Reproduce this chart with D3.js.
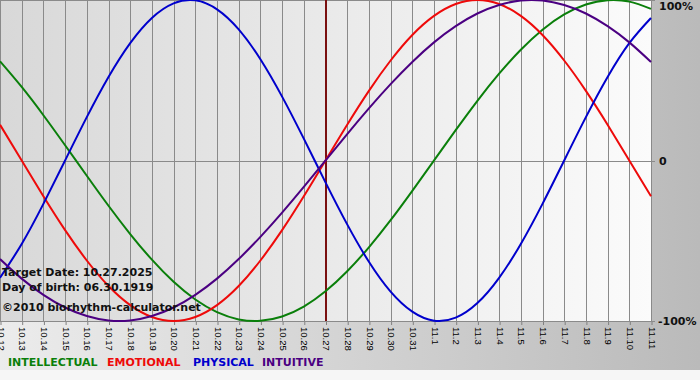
<!DOCTYPE html>
<html>
<head>
<meta charset="utf-8">
<script src="https://cdn.jsdelivr.net/npm/d3@7"></script>
<style>
  body { margin: 0; background: #f6f6f6; }
  svg { display: block; }
</style>
</head>
<body>
<div id="chart"></div>
<script>
// Biorhythm chart, 10.12 - 11.11

const dates = ['10.12', '10.13', '10.14', '10.15', '10.16', '10.17', '10.18', '10.19', '10.20', '10.21',
    '10.22', '10.23', '10.24', '10.25', '10.26', '10.27', '10.28', '10.29', '10.30', '10.31',
    '11.1', '11.2', '11.3', '11.4', '11.5', '11.6', '11.7', '11.8', '11.9', '11.10', '11.11'];

const intellectual = [0.618, 0.458, 0.282, 0.095, -0.095, -0.282, -0.458, -0.618, -0.756, -0.866,
    -0.945, -0.990, -0.999, -0.972, -0.910, -0.815, -0.690, -0.541, -0.372, -0.189,
    0.000, 0.189, 0.372, 0.541, 0.690, 0.815, 0.910, 0.972, 0.999, 0.990, 0.945];

const emotional = [0.223, 0.000, -0.223, -0.434, -0.623, -0.782, -0.901, -0.975, -1.000, -0.975,
    -0.901, -0.782, -0.623, -0.434, -0.223, 0.000, 0.223, 0.434, 0.623, 0.782,
    0.901, 0.975, 1.000, 0.975, 0.901, 0.782, 0.623, 0.434, 0.223, 0.000, -0.223];

const physical = [-0.731, -0.520, -0.270, 0.000, 0.270, 0.520, 0.731, 0.888, 0.979, 0.998,
    0.942, 0.817, 0.631, 0.398, 0.136, -0.136, -0.398, -0.631, -0.817, -0.942,
    -0.998, -0.979, -0.888, -0.731, -0.520, -0.270, 0.000, 0.270, 0.520, 0.731, 0.888];

const intuitive = [-0.614, -0.736, -0.837, -0.916, -0.969, -0.997, -0.997, -0.969, -0.916, -0.837,
    -0.736, -0.614, -0.476, -0.325, -0.165, 0.000, 0.165, 0.325, 0.476, 0.614,
    0.736, 0.837, 0.916, 0.969, 0.997, 0.997, 0.969, 0.916, 0.837, 0.736, 0.614];

const seriesNames = ['INTELLECTUAL', 'EMOTIONAL', 'PHYSICAL', 'INTUITIVE'];
const yTickValues = [1, 0, -1];
const yTickLabels = ['100%', '0', '-100%'];
const targetDate = '10.27';
const infoLines = ['Target Date: 10.27.2025', 'Day of birth: 06.30.1919', '\u00A92010 biorhythm-calculator.net'];

function drawChart() {
    const W = 700, H = 380;
    const plot = { left: 0, right: 651, top: 0, bottom: 321 };
    const colors = ['#0a7f0a', '#ee0a0a', '#0000cc', '#4b0082'];
    const series = [intellectual, emotional, physical, intuitive];

    const svg = d3.select('#chart')
        .append('svg')
        .attr('width', W)
        .attr('height', H);

    const defs = svg.append('defs');

    // outer background gradient (light left, darker right)
    const outerGrad = defs.append('linearGradient')
        .attr('id', 'outerGrad')
        .attr('x1', '0%').attr('x2', '100%').attr('y1', '0%').attr('y2', '0%');
    outerGrad.append('stop').attr('offset', '0%').attr('stop-color', '#ececec');
    outerGrad.append('stop').attr('offset', '100%').attr('stop-color', '#bababa');

    // plot background gradient (grey left, white right)
    const plotGrad = defs.append('linearGradient')
        .attr('id', 'plotGrad')
        .attr('x1', '0%').attr('x2', '100%').attr('y1', '0%').attr('y2', '0%');
    plotGrad.append('stop').attr('offset', '0%').attr('stop-color', '#d8d8d8');
    plotGrad.append('stop').attr('offset', '100%').attr('stop-color', '#fbfbfb');

    svg.append('rect')
        .attr('width', W).attr('height', H)
        .attr('fill', '#f6f6f6');

    svg.append('rect')
        .attr('width', W).attr('height', 370)
        .attr('fill', 'url(#outerGrad)');

    svg.append('rect')
        .attr('x', plot.left).attr('y', plot.top)
        .attr('width', plot.right - plot.left)
        .attr('height', plot.bottom - plot.top)
        .attr('fill', 'url(#plotGrad)');

    // scales
    const xScale = d3.scalePoint()
        .domain(dates)
        .range([plot.left, plot.right]);

    const yScale = d3.scaleLinear()
        .domain([-1, 1])
        .range([plot.bottom, plot.top]);

    // ticks + rotated date labels
    const xAxis = svg.append('g')
        .attr('transform', `translate(0.5,${plot.bottom})`)
        .call(d3.axisBottom(xScale).tickSize(4).tickSizeOuter(0));
    xAxis.select('.domain').remove();
    xAxis.selectAll('line').attr('stroke', '#808080');
    xAxis.selectAll('text')
        .attr('transform', 'rotate(90)')
        .attr('x', 6)
        .attr('y', 0)
        .attr('dy', '0.35em')
        .attr('text-anchor', 'start')
        .style('font-family', '"Liberation Sans", Arial, sans-serif')
        .style('font-size', '9.5px')
        .style('fill', '#000');

    // vertical grid
    svg.append('g')
        .selectAll('line')
        .data(dates)
        .enter()
        .append('line')
        .attr('x1', d => Math.round(xScale(d)) + 0.5)
        .attr('x2', d => Math.round(xScale(d)) + 0.5)
        .attr('y1', plot.top)
        .attr('y2', plot.bottom)
        .attr('stroke', '#8a8a8a')
        .attr('stroke-width', 1);

    // horizontal lines at 100%, 0, -100%
    svg.append('g')
        .selectAll('line')
        .data(yTickValues)
        .enter()
        .append('line')
        .attr('x1', plot.left)
        .attr('x2', plot.right + 4)
        .attr('y1', d => Math.round(yScale(d)) + 0.5)
        .attr('y2', d => Math.round(yScale(d)) + 0.5)
        .attr('stroke', '#8a8a8a')
        .attr('stroke-width', 1);

    // right side labels
    svg.append('g')
        .selectAll('text')
        .data(yTickValues)
        .enter()
        .append('text')
        .attr('x', (d, i) => i === 2 ? 658 : 659)
        .attr('y', d => yScale(d))
        .attr('dy', (d, i) => i === 0 ? '0.95em' : '0.38em')
        .style('font-family', '"DejaVu Sans", Verdana, sans-serif')
        .style('font-size', '11px')
        .style('font-weight', 'bold')
        .style('fill', '#111')
        .text((d, i) => yTickLabels[i]);

    // target date marker
    svg.append('line')
        .attr('x1', xScale(targetDate) + 0.5)
        .attr('x2', xScale(targetDate) + 0.5)
        .attr('y1', plot.top)
        .attr('y2', plot.bottom)
        .attr('stroke', '#7a1010')
        .attr('stroke-width', 2);

    // curves
    const line = d3.line()
        .x((d, i) => xScale(dates[i]))
        .y(d => yScale(d))
        .curve(d3.curveNatural);

    series.forEach((values, k) => {
        svg.append('path')
            .datum(values)
            .attr('fill', 'none')
            .attr('stroke', colors[k])
            .attr('stroke-width', 2)
            .attr('d', line);
    });

    // info text
    const infoY = [276, 291, 311];
    svg.append('g')
        .selectAll('text')
        .data(infoLines)
        .enter()
        .append('text')
        .attr('x', 2)
        .attr('y', (d, i) => infoY[i])
        .style('font-family', '"DejaVu Sans", Verdana, sans-serif')
        .style('font-size', '11px')
        .style('font-weight', 'bold')
        .style('fill', '#111')
        .text(d => d);

    // legend
    const legendX = [8, 107, 193, 262];
    svg.append('g')
        .selectAll('text')
        .data(seriesNames)
        .enter()
        .append('text')
        .attr('x', (d, i) => legendX[i])
        .attr('y', 366)
        .style('font-family', '"DejaVu Sans", Verdana, sans-serif')
        .style('font-size', '11px')
        .style('font-weight', 'bold')
        .style('fill', (d, i) => colors[i])
        .text(d => d);
}

drawChart();
</script>
</body>
</html>
